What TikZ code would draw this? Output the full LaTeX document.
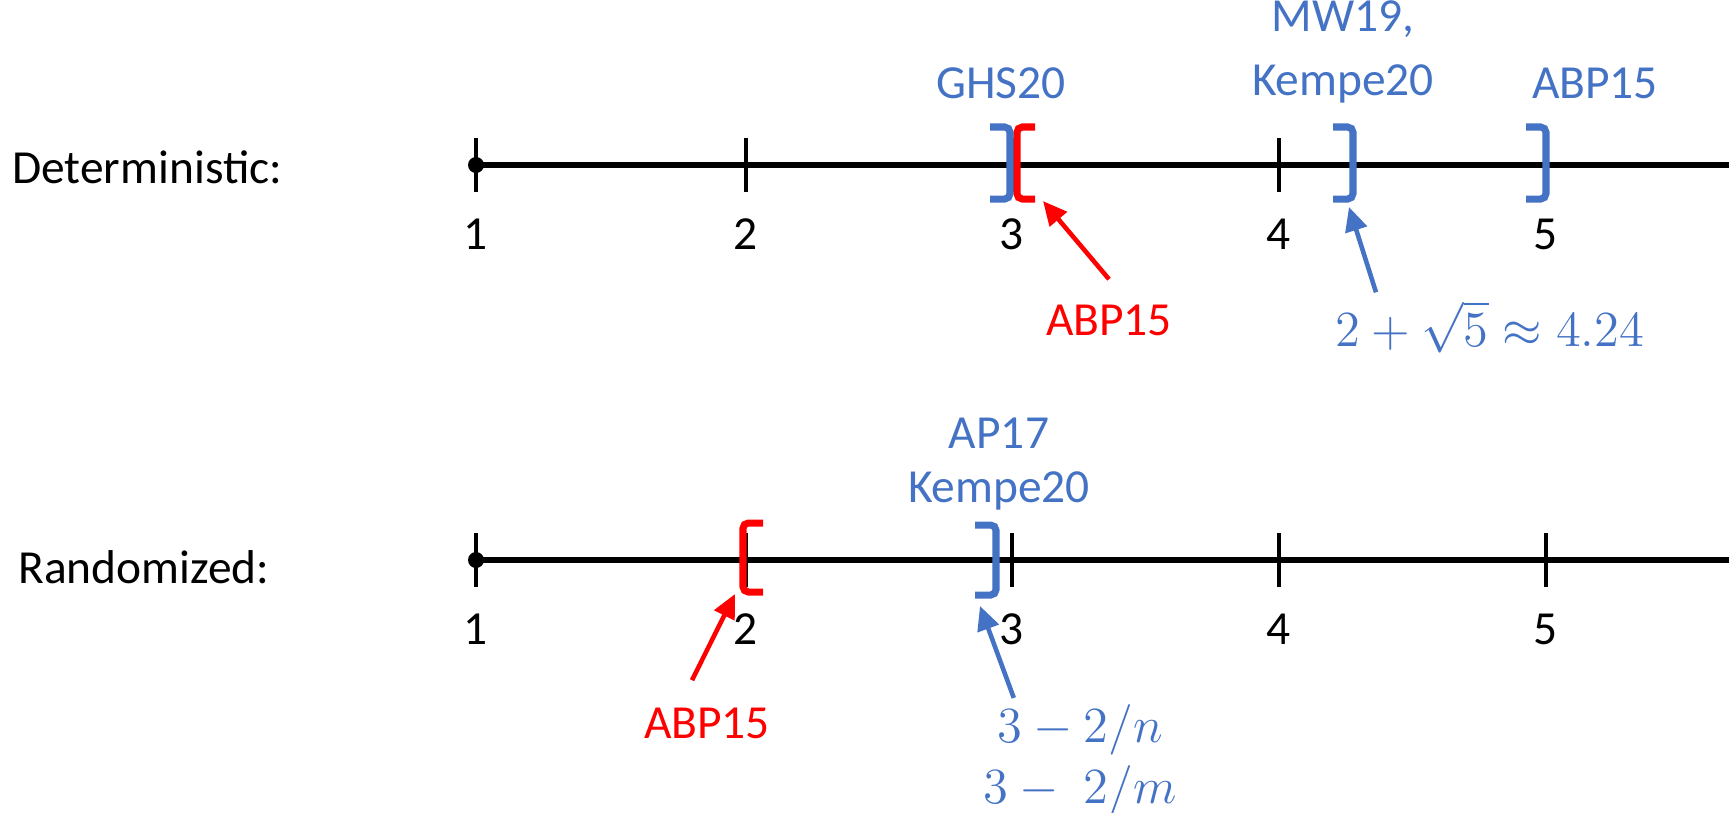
\documentclass[tikz,border=0pt]{standalone}
\usepackage{fontspec}
\setmainfont{Carlito}
\usetikzlibrary{arrows.meta}

\definecolor{refblue}{HTML}{4472C4}
\definecolor{refred}{HTML}{FF0000}

\tikzset{
  axis/.style = {line width=1.5pt, -{Triangle[length=2.2mm,width=2.4mm]}},
  tick/.style = {line width=1pt},
  brk/.style = {line width=2pt, rounded corners=1.5pt},
  lbl/.style = {font=\fontsize{13.5}{18}\selectfont, align=center},
  ptr/.style = {line width=1.3pt, -{Triangle[length=2.4mm,width=2.2mm]}},
  val/.style = {text=refblue, font=\fontsize{13.5}{17.3}\selectfont, align=center},
}

\begin{document}
\begin{tikzpicture}[x=0.1mm, y=-0.1mm]
  \useasboundingbox (0,0) rectangle (1729,812);

  % row names
  \node[lbl, anchor=west] (det) at (0,167) {Deterministic:};
  \node[lbl, anchor=west] (rnd) at (6,567) {Randomized:};

  % the two number lines
  \foreach \y/\r in {165/d, 560/r} {
    \draw[axis] (476,\y) -- (1762,\y);
    \fill (476,\y) circle (8);
    \foreach \x [count=\i] in {476,746,1012,1279,1546} {
      \draw[tick] (\x,\y-27) -- (\x,\y+27);
      \node[lbl] (\r\i) at (\x,\y+69) {\i};
    }
  }

  % deterministic bounds
  \draw[brk, refred] (1035,127) -- (1017,127) -- (1017,199) -- (1035,199);
  \draw[brk, refblue] (990,127) -- (1010,127) -- (1010,199) -- (990,199);
  \draw[brk, refblue] (1333,127) -- (1353,127) -- (1353,199) -- (1333,199);
  \draw[brk, refblue] (1526,127) -- (1546,127) -- (1546,199) -- (1526,199);
  \coordinate (dlow) at (1043,201);
  \coordinate (dup) at (1349,207);

  \node[lbl, text=refblue] (ghs) at (1001,83) {GHS20};
  \node[lbl, text=refblue] (mw) at (1343,52) {MW19,\\Kempe20};
  \node[lbl, text=refblue] (abpdu) at (1595,83) {ABP15};
  \node[lbl, text=refred] (abpdl) at (1109,320) {ABP15};
  \node[val] (sqrtv) at (1490,327) {$2+\sqrt{5}\approx 4.24$};

  \draw[ptr, refred] (abpdl.north) ++(0,-13) -- (dlow);
  \draw[ptr, refblue] (sqrtv.north) ++(-114,4) -- (dup);

  % randomized bounds
  \draw[brk, refred] (763,523) -- (743,523) -- (743,592) -- (763,592);
  \draw[brk, refblue] (975,525) -- (996,525) -- (996,595) -- (975,595);
  \coordinate (rlow) at (735,594);
  \coordinate (rup) at (980,606);

  \node[lbl, text=refblue, font=\fontsize{13.5}{15.6}\selectfont] (ap) at (999,464) {AP17\\Kempe20};
  \node[lbl, text=refred] (abprl) at (707,723) {ABP15};
  \node[val] (frac) at (1080,760) {$3-2/n$\\$3-\;2/m$};

  \draw[ptr, refred] (abprl.north) ++(-15,-15) -- (rlow);
  \draw[ptr, refblue] (frac.north west) ++(43,6) -- (rup);
\end{tikzpicture}
\end{document}
